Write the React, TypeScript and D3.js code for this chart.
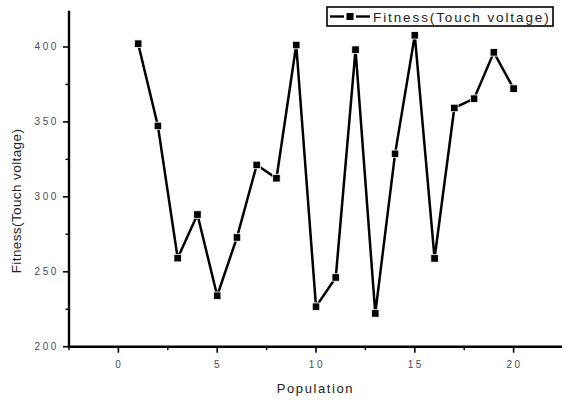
import * as d3 from 'd3';

// values
const population = [1, 2, 3, 4, 5, 6, 7, 8, 9, 10, 11, 12, 13, 14, 15, 16, 17, 18, 19, 20];
const fitness = [402.2, 347.3, 259.1, 288.2, 234, 272.9, 321.3, 312.4, 401.3, 226.7, 246.2, 398.2, 222.2, 328.7, 407.8, 258.9, 359.3, 365.5, 396.4, 372.2];
const xTicks = [0, 5, 10, 15, 20];
const xMinor = [-2.5, 2.5, 7.5, 12.5, 17.5, 22.5];
const yTicks = [200, 250, 300, 350, 400];
const yMinor = [225, 275, 325, 375];

const seriesName = 'Fitness(Touch voltage)';
const xTitle = 'Population';
const yTitle = 'Fitness(Touch voltage)';

export default function App() {
  const width = 562;
  const height = 400;

  const x = d3.scaleLinear().domain([-2.5, 22.5]).range([69, 563]);
  const y = d3.scaleLinear().domain([200, 424.2]).range([346.7, 10.7]);

  const points = population.map((p, i) => ({ p, f: fitness[i] }));
  const line = d3.line<{ p: number; f: number }>()
    .x(d => x(d.p))
    .y(d => y(d.f));

  const font = '"Liberation Sans", Arial, sans-serif';
  const x0 = x.range()[0];
  const y0 = y.range()[0];

  return (
    <svg width={width} height={height} style={{ position: 'absolute', left: 0, top: 0, background: '#fff' }}>
      {/* data line */}
      <path d={line(points) || ''} fill="none" stroke="#000" strokeWidth={2.5} strokeLinejoin="miter" />
      {points.map((d, i) => (
        <rect key={i} x={x(d.p) - 3.75} y={y(d.f) - 3.75} width={7.5} height={7.5} fill="#000" stroke="#fff" strokeWidth={0.8} />
      ))}

      {/* y axis */}
      <line x1={x0} x2={x0} y1={y.range()[1]} y2={y0 + 1} stroke="#000" strokeWidth={2.4} />
      {yTicks.map(t => (
        <g key={t}>
          <line x1={x0 - 6} x2={x0} y1={y(t)} y2={y(t)} stroke="#000" strokeWidth={1.6} />
          <text x={x0 - 10} y={y(t) + 3.5} textAnchor="end" fontFamily={font} fontSize={10} letterSpacing={2.6} fill="#4a4a5a">{t}</text>
        </g>
      ))}
      {yMinor.map(t => (
        <line key={t} x1={x0 - 3.5} x2={x0} y1={y(t)} y2={y(t)} stroke="#000" strokeWidth={1.4} />
      ))}

      {/* x axis */}
      <line x1={x0 - 1} x2={width} y1={y0} y2={y0} stroke="#000" strokeWidth={2.4} />
      {xTicks.map(t => (
        <g key={t}>
          <line x1={x(t)} x2={x(t)} y1={y0} y2={y0 + 6} stroke="#000" strokeWidth={1.6} />
          <text x={x(t) + 1} y={y0 + 21} textAnchor="middle" fontFamily={font} fontSize={10} letterSpacing={2.6} fill="#4a4a5a">{t}</text>
        </g>
      ))}
      {xMinor.map(t => (
        <line key={t} x1={x(t)} x2={x(t)} y1={y0} y2={y0 + 3.5} stroke="#000" strokeWidth={1.4} />
      ))}

      {/* axis titles */}
      <text x={(x0 + width) / 2} y={393} textAnchor="middle" fontFamily={font} fontSize={13} letterSpacing={1.6} fill="#222">{xTitle}</text>
      <text transform={`translate(21,${201}) rotate(-90)`} textAnchor="middle" fontFamily={font} fontSize={13.5} letterSpacing={0.4} fill="#222">{yTitle}</text>

      {/* legend */}
      <rect x={327} y={7} width={226} height={19} fill="#fff" stroke="#000" strokeWidth={1.6} />
      <line x1={330} x2={344} y1={16.5} y2={16.5} stroke="#000" strokeWidth={2.4} />
      <line x1={356} x2={370} y1={16.5} y2={16.5} stroke="#000" strokeWidth={2.4} />
      <rect x={346.5} y={13} width={7} height={7} fill="#000" />
      <text x={373} y={21.5} fontFamily={font} fontSize={13.5} letterSpacing={1.9} fill="#222">{seriesName}</text>
    </svg>
  );
}
